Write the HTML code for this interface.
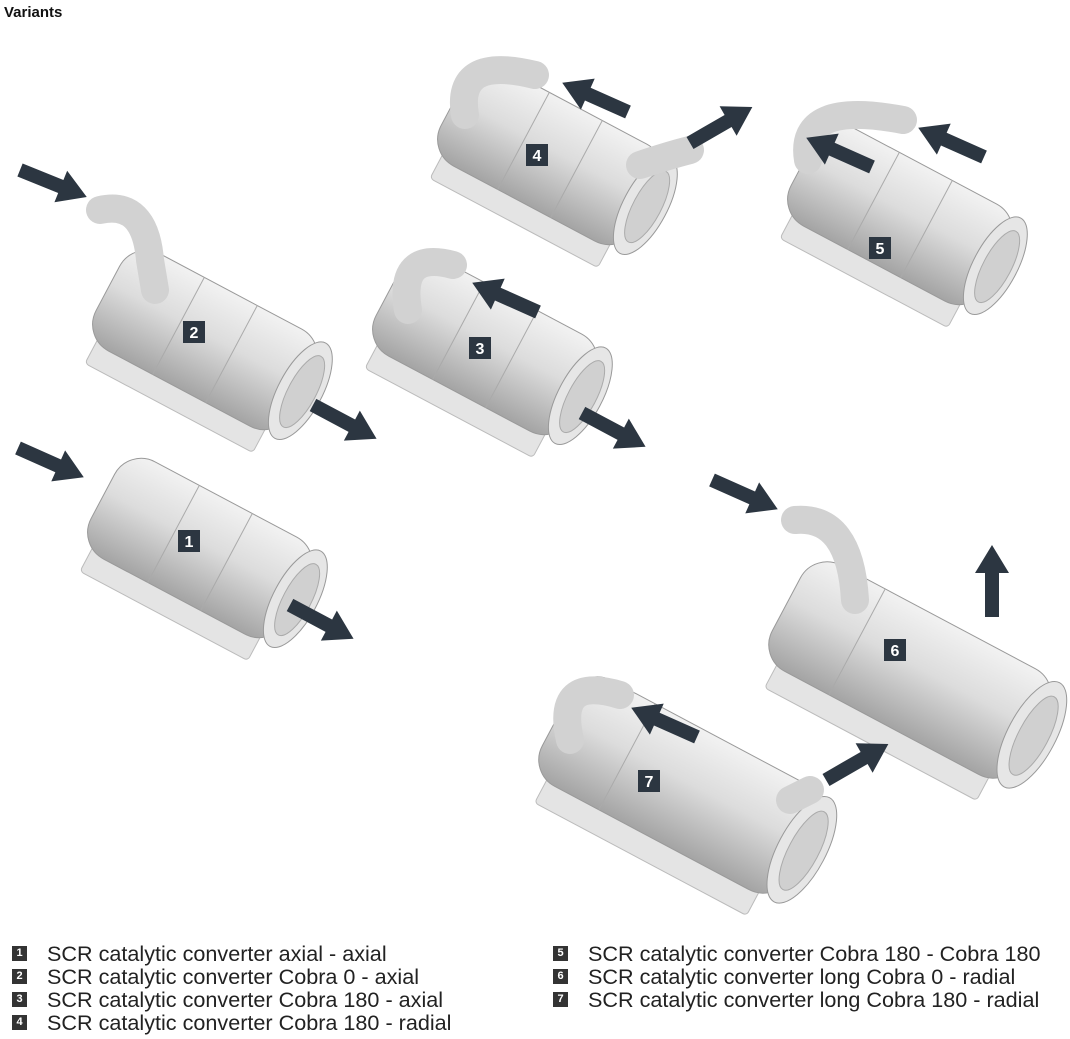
<!DOCTYPE html>
<html><head><meta charset="utf-8"><style>
body{margin:0;background:#fff;width:1070px;height:1039px;overflow:hidden;font-family:"Liberation Sans",sans-serif}
.t{position:absolute;left:4px;top:4px;font-weight:bold;font-size:15px;color:#111}
.lg{position:absolute;font-size:21.6px;color:#222;line-height:23px}
.lg div{position:relative;padding-left:35px;white-space:nowrap}
.lg span{position:absolute;left:0;top:4px;width:15px;height:15px;background:#333;color:#fff;font-size:11px;font-weight:bold;text-align:center;line-height:15px}
</style></head><body>
<div class="t">Variants</div>
<svg width="1070" height="940" style="position:absolute;left:0;top:0">
<defs>
<linearGradient id="g" x1="0" y1="0" x2="0" y2="1">
<stop offset="0" stop-color="#f2f2f2"/><stop offset="0.45" stop-color="#dcdcdc"/><stop offset="1" stop-color="#a4a4a4"/></linearGradient>
<path id="ar" d="M0,-7 L44,-7 L44,-17 L72,0 L44,17 L44,7 L0,7 Z" fill="#2c3641"/>
<g id="cyl">
<rect x="-95" y="45" width="190" height="32" rx="4" fill="#e4e4e4" stroke="#bbb"/>
<rect x="-110" y="-55" width="220" height="110" rx="30" fill="url(#g)" stroke="#999"/>
<line x1="-30" y1="-55" x2="-30" y2="55" stroke="#aaa"/>
<line x1="30" y1="-55" x2="30" y2="55" stroke="#aaa"/>
<ellipse cx="108" cy="0" rx="22" ry="54" fill="#e6e6e6" stroke="#999"/>
<ellipse cx="110" cy="0" rx="14" ry="40" fill="#d0d0d0" stroke="#aaa"/>
</g>
<g id="lcyl">
<rect x="-120" y="50" width="240" height="34" rx="4" fill="#e4e4e4" stroke="#bbb"/>
<rect x="-140" y="-60" width="280" height="120" rx="30" fill="url(#g)" stroke="#999"/>
<line x1="-60" y1="-60" x2="-60" y2="60" stroke="#aaa"/>
<ellipse cx="138" cy="0" rx="24" ry="59" fill="#e6e6e6" stroke="#999"/>
<ellipse cx="140" cy="0" rx="15" ry="44" fill="#d0d0d0" stroke="#aaa"/>
</g>
</defs>
<use href="#cyl" transform="translate(200,548) rotate(28)"/>
<use href="#cyl" transform="translate(205,340) rotate(28)"/>
<use href="#cyl" transform="translate(485,345) rotate(28)"/>
<use href="#cyl" transform="translate(550,155) rotate(28)"/>
<use href="#cyl" transform="translate(900,215) rotate(28)"/>
<use href="#lcyl" transform="translate(910,670) rotate(28)"/>
<use href="#lcyl" transform="translate(680,785) rotate(28)"/>
<g fill="none" stroke="#d2d2d2" stroke-width="28" stroke-linecap="round">
<path d="M100,210 q45,-10 50,50 q5,30 5,30"/>
<path d="M408,310 q-10,-60 45,-45"/>
<path d="M465,115 q-10,-60 70,-40"/>
<path d="M808,160 q-10,-60 95,-40"/>
<path d="M795,520 q55,-5 60,80"/>
<path d="M570,740 q-15,-65 50,-45"/>
<path d="M640,165 q30,-10 50,-15"/>
<path d="M790,800 q20,-10 20,-10"/>
</g>
<g fill="#2c3641">
<rect x="178" y="530" width="22" height="22"/><rect x="183" y="321" width="22" height="22"/>
<rect x="469" y="337" width="22" height="22"/><rect x="526" y="144" width="22" height="22"/>
<rect x="869" y="237" width="22" height="22"/><rect x="884" y="639" width="22" height="22"/>
<rect x="638" y="770" width="22" height="22"/>
</g>
<g fill="#fff" font-size="16" font-weight="bold" text-anchor="middle">
<text x="189" y="547">1</text><text x="194" y="338">2</text><text x="480" y="354">3</text>
<text x="537" y="161">4</text><text x="880" y="254">5</text><text x="895" y="656">6</text><text x="649" y="787">7</text>
</g>
<use href="#ar" transform="translate(20,170) rotate(22)"/>
<use href="#ar" transform="translate(313,405) rotate(28)"/>
<use href="#ar" transform="translate(18,448) rotate(24)"/>
<use href="#ar" transform="translate(290,605) rotate(28)"/>
<use href="#ar" transform="translate(538,312) rotate(204)"/>
<use href="#ar" transform="translate(582,413) rotate(28)"/>
<use href="#ar" transform="translate(628,112) rotate(204)"/>
<use href="#ar" transform="translate(690,143) rotate(-30)"/>
<use href="#ar" transform="translate(872,167) rotate(204)"/>
<use href="#ar" transform="translate(984,157) rotate(204)"/>
<use href="#ar" transform="translate(712,480) rotate(24)"/>
<use href="#ar" transform="translate(992,617) rotate(-90)"/>
<use href="#ar" transform="translate(697,737) rotate(204)"/>
<use href="#ar" transform="translate(826,780) rotate(-30)"/>
</svg>
<div class="lg" style="left:12px;top:942px">
<div><span>1</span>SCR catalytic converter axial - axial</div>
<div><span>2</span>SCR catalytic converter Cobra 0 - axial</div>
<div><span>3</span>SCR catalytic converter Cobra 180 - axial</div>
<div><span>4</span>SCR catalytic converter Cobra 180 - radial</div>
</div>
<div class="lg" style="left:553px;top:942px">
<div><span>5</span>SCR catalytic converter Cobra 180 - Cobra 180</div>
<div><span>6</span>SCR catalytic converter long Cobra 0 - radial</div>
<div><span>7</span>SCR catalytic converter long Cobra 180 - radial</div>
</div>
</body></html>
